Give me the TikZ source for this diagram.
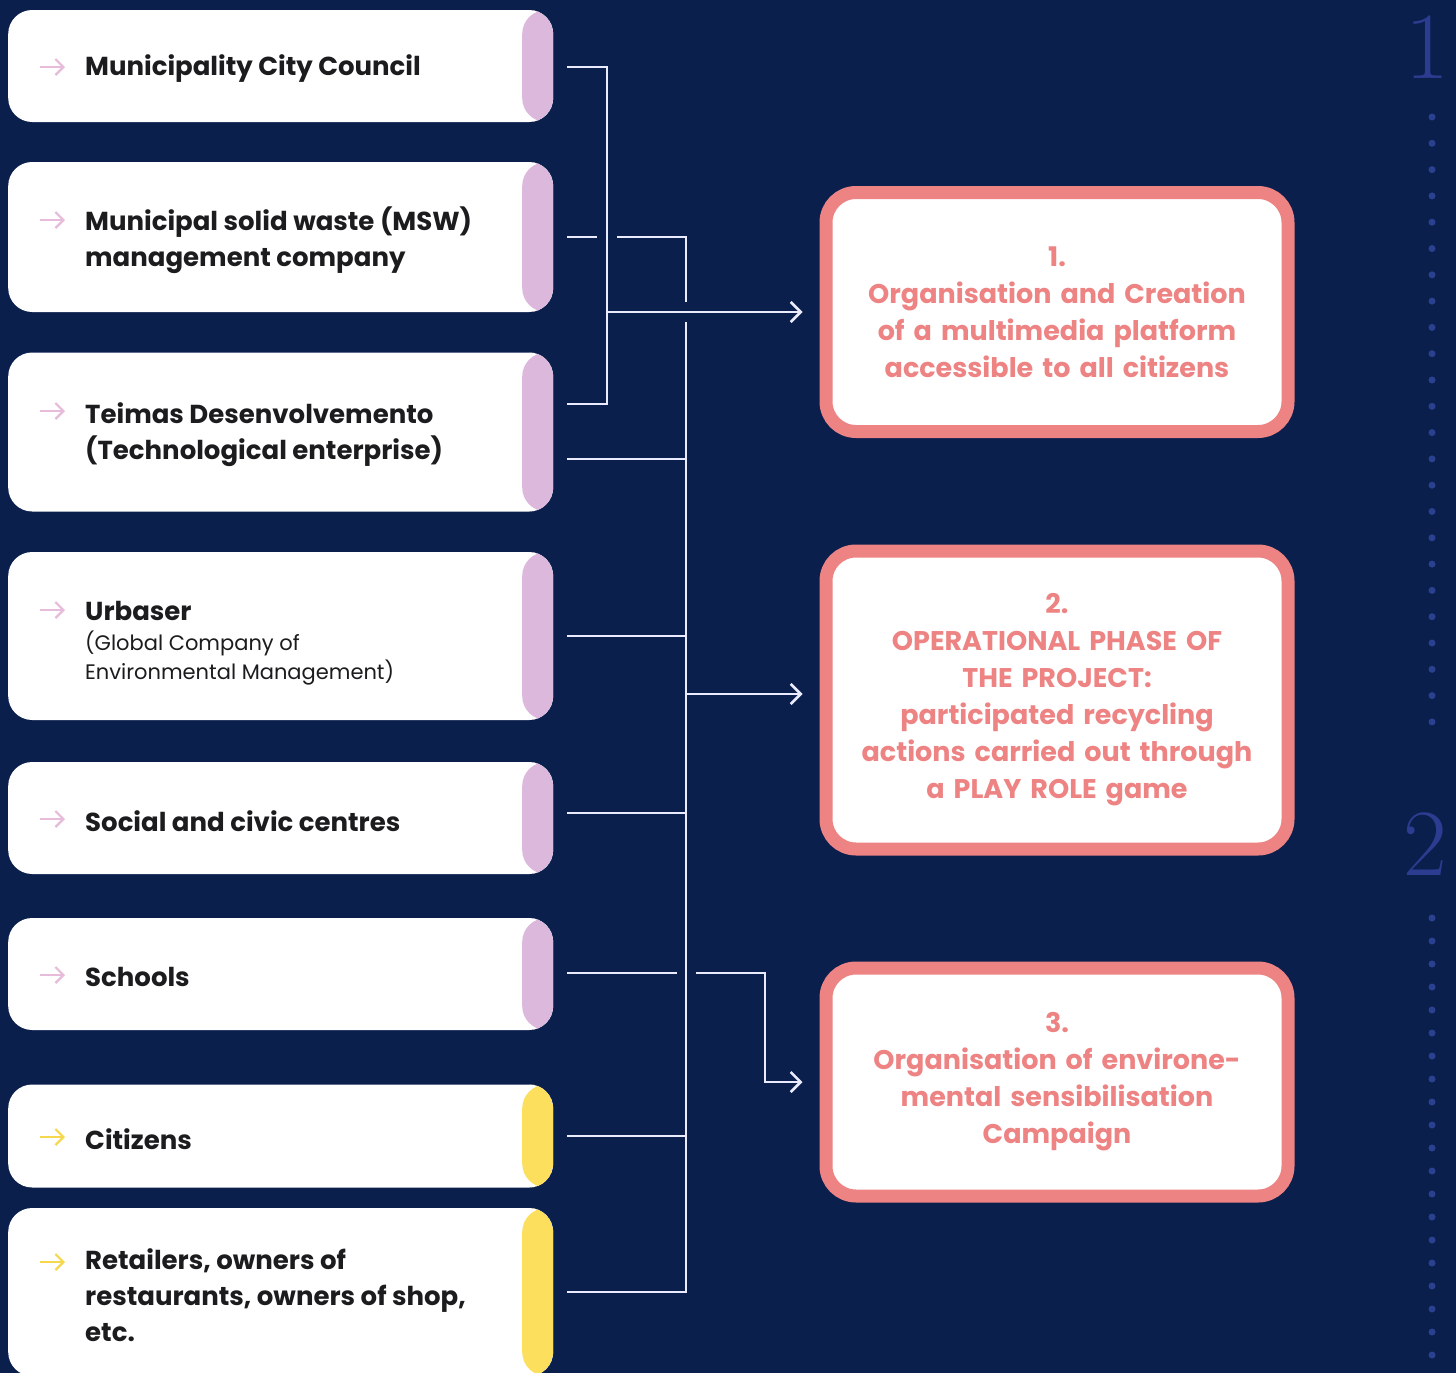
\documentclass[tikz,border=0pt]{standalone}
\usepackage{fontspec}
\usepackage{tikz}
\usetikzlibrary{positioning,arrows.meta,calc}
\newfontfamily\popfont{Poppins}
\definecolor{bgnavy}{HTML}{0B1F4D}
\definecolor{stripPink}{HTML}{DCB8DD}
\definecolor{stripYellow}{HTML}{FDDF5E}
\definecolor{iconPink}{HTML}{E6BCDA}
\definecolor{iconYellow}{HTML}{F6D84E}
\definecolor{salmon}{HTML}{EE8383}
\definecolor{inkdark}{HTML}{1C1C1E}
\definecolor{numBlue}{HTML}{2C3C90}
\definecolor{dotBlue}{HTML}{2A4190}
\newcommand{\urbsub}{\mdseries\fontsize{21}{29}\selectfont}

\begin{document}
\begin{tikzpicture}[x=1pt, y=-1pt,
    actorBox/.style={rectangle, rounded corners=24pt, fill=white, minimum width=545pt, inner sep=0pt, anchor=west,
        path picture={\fill[#1] ($(path picture bounding box.north east)+(-31,0)$) rectangle (path picture bounding box.south east);}},
    actorText/.style={anchor=west, align=left, inner sep=0pt, yshift=-3pt, text=inkdark, font=\popfont\fontsize{26}{36}\selectfont\bfseries},
    phaseBox/.style={rectangle, rounded corners=30pt, draw=salmon, line width=13pt, fill=white, minimum width=462pt,
        text width=440pt, align=center, text=salmon, font=\popfont\fontsize{27}{37}\selectfont\bfseries},
    iconArrow/.style={draw=#1, line width=2.2pt, -{Straight Barb[length=8pt,width=16pt]}},
    link/.style={draw=white!92!blue, line width=2.6pt},
    linkArrow/.style={link, -{Straight Barb[length=10pt,width=20pt]}},
    bigNum/.style={anchor=base, inner sep=0pt, text=numBlue, font=\fontsize{95}{95}\selectfont}
]
    \useasboundingbox (0,0) rectangle (1456,1373);
    \clip (0,0) rectangle (1456,1373);
    \fill[bgnavy] (0,0) rectangle (1456,1373);

    % actors on the left
    \node[actorBox=stripPink, minimum height=112pt] (mcc) at (8,66) {};
    \node[actorBox=stripPink, minimum height=150pt] (msw) at (8,237) {};
    \node[actorBox=stripPink, minimum height=159pt] (tde) at (8,432) {};
    \node[actorBox=stripPink, minimum height=168pt] (urb) at (8,636) {};
    \node[actorBox=stripPink, minimum height=112pt] (soc) at (8,818) {};
    \node[actorBox=stripPink, minimum height=112pt] (sch) at (8,974) {};
    \node[actorBox=stripYellow, minimum height=103pt] (cit) at (8,1136) {};
    \node[actorBox=stripYellow, minimum height=168pt] (ret) at (8,1292) {};

    \node[actorText, right=77pt of mcc.west] (mccT) {Municipality City Council};
    \node[actorText, right=77pt of msw.west] (mswT) {Municipal solid waste (MSW)\\management company};
    \node[actorText, right=77pt of tde.west] (tdeT) {Teimas Desenvolvemento\\(Technological enterprise)};
    \node[actorText, right=77pt of urb.west, yshift=-4pt] (urbT) {Urbaser\\[-6pt]{\urbsub (Global Company of}\\[-7pt]{\urbsub Environmental Management)}};
    \node[actorText, right=77pt of soc.west] (socT) {Social and civic centres};
    \node[actorText, right=77pt of sch.west] (schT) {Schools};
    \node[actorText, right=77pt of cit.west] (citT) {Citizens};
    \node[actorText, right=77pt of ret.west] (retT) {Retailers, owners of\\restaurants, owners of shop,\\etc.};

    \foreach \b/\c/\dy in {mcc/iconPink/-1, msw/iconPink/17, tde/iconPink/21, urb/iconPink/26,
                           soc/iconPink/-1, sch/iconPink/-1, cit/iconYellow/-1, ret/iconYellow/30}
        \draw[iconArrow=\c] ($(\b.west)+(32,-\dy)$) -- ++(25,0);

    % phases on the right
    \node[phaseBox, minimum height=239pt] (phase1) at (1057,312) {1.\\Organisation and Creation\\of a multimedia platform\\accessible to all citizens};
    \node[phaseBox, minimum height=298pt] (phase2) at (1057,700) {2.\\OPERATIONAL PHASE OF\\THE PROJECT:\\participated recycling\\actions carried out through\\a PLAY ROLE game};
    \node[phaseBox, minimum height=228pt] (phase3) at (1057,1082) {3.\\Organisation of environe-\\mental sensibilisation\\Campaign};

    % side markers
    \node[bigNum] (num1) at (1427,78) {1};
    \node[bigNum] (num2) at (1425,875) {2};
    \foreach \k in {0,...,23}
        \fill[dotBlue] (1432,{117+26.3*\k}) circle (3.5pt);
    \foreach \k in {0,...,19}
        \fill[dotBlue] (1432,{918+23*\k}) circle (3.5pt);

    % connectors
    \coordinate (busA) at (607,0);
    \coordinate (busB) at (686,0);
    \coordinate (busC) at (765,0);
    \coordinate (mccP) at ($(mcc.east)+(14,1)$);
    \coordinate (mswP) at ($(msw.east)+(14,0)$);
    \coordinate (tdeP1) at ($(tde.east)+(14,-28)$);
    \coordinate (tdeP2) at ($(tde.east)+(14,27)$);
    \coordinate (urbP) at ($(urb.east)+(14,0)$);
    \coordinate (socP) at ($(soc.east)+(14,-5)$);
    \coordinate (schP) at ($(sch.east)+(14,-1)$);
    \coordinate (citP) at ($(cit.east)+(14,0)$);
    \coordinate (retP) at ($(ret.east)+(14,0)$);

    \draw[link] (mccP) -| (busA |- tdeP1) -- (tdeP1);
    \draw[linkArrow] (busA |- phase1.west) -- ($(phase1.west)+(-17,0)$);
    \draw[link] (mswP) -- ($(busA |- mswP)+(-10,0)$);
    \draw[link] ($(busA |- mswP)+(10,0)$) -| ($(busB |- phase1.west)+(0,-10)$);
    \draw[link] ($(busB |- phase1.west)+(0,10)$) -- (busB |- retP) -- (retP);
    \foreach \p in {tdeP2, urbP, socP, citP}
        \draw[link] (\p) -- (busB |- \p);
    \draw[linkArrow] ($(busB |- phase2.west)+(0,-6)$) -- ($(phase2.west)+(-17,-6)$);
    \draw[link] (schP) -- ($(busB |- schP)+(-9,0)$);
    \draw[linkArrow] ($(busB |- schP)+(10,0)$) -| (busC |- phase3.west) -- ($(phase3.west)+(-17,0)$);
\end{tikzpicture}
\end{document}
